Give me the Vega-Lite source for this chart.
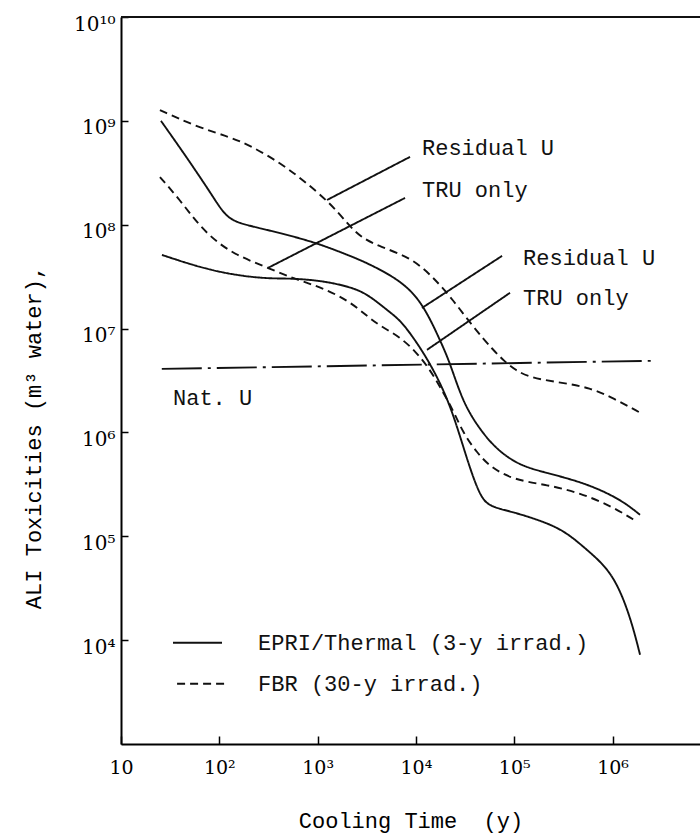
{
  "$schema": "https://vega.github.io/schema/vega-lite/v6.json",
  "width": 579,
  "height": 727,
  "autosize": {"type": "none"},
  "padding": {"left": 121, "top": 17, "right": 0, "bottom": 94},
  "background": "white",
  "config": {"view": {"stroke": null}, "axis": {"grid": false}},
  "datasets": {
    "lines": [
      {"curve": "border", "style": "solid", "t": 10, "v": 1e10},
      {"curve": "border", "style": "solid", "t": 7760000, "v": 1e10},

      {"curve": "EPRI Residual U", "style": "solid", "t": 25.5, "v": 1.0e9},
      {"curve": "EPRI Residual U", "style": "solid", "t": 44.8, "v": 4.7e8},
      {"curve": "EPRI Residual U", "style": "solid", "t": 80.4, "v": 2.07e8},
      {"curve": "EPRI Residual U", "style": "solid", "t": 106, "v": 1.36e8},
      {"curve": "EPRI Residual U", "style": "solid", "t": 134.6, "v": 1.09e8},
      {"curve": "EPRI Residual U", "style": "solid", "t": 205, "v": 9.73e7},
      {"curve": "EPRI Residual U", "style": "solid", "t": 414, "v": 8.34e7},
      {"curve": "EPRI Residual U", "style": "solid", "t": 986, "v": 6.68e7},
      {"curve": "EPRI Residual U", "style": "solid", "t": 2138, "v": 5.01e7},
      {"curve": "EPRI Residual U", "style": "solid", "t": 3184, "v": 4.29e7},
      {"curve": "EPRI Residual U", "style": "solid", "t": 6890, "v": 2.94e7},
      {"curve": "EPRI Residual U", "style": "solid", "t": 11530, "v": 1.81e7},
      {"curve": "EPRI Residual U", "style": "solid", "t": 17580, "v": 7.78e6},
      {"curve": "EPRI Residual U", "style": "solid", "t": 22230, "v": 4.68e6},
      {"curve": "EPRI Residual U", "style": "solid", "t": 30130, "v": 1.93e6},
      {"curve": "EPRI Residual U", "style": "solid", "t": 44900, "v": 1.06e6},
      {"curve": "EPRI Residual U", "style": "solid", "t": 66800, "v": 6.8e5},
      {"curve": "EPRI Residual U", "style": "solid", "t": 114500, "v": 4.77e5},
      {"curve": "EPRI Residual U", "style": "solid", "t": 215800, "v": 4.08e5},
      {"curve": "EPRI Residual U", "style": "solid", "t": 467000, "v": 3.35e5},
      {"curve": "EPRI Residual U", "style": "solid", "t": 839000, "v": 2.68e5},
      {"curve": "EPRI Residual U", "style": "solid", "t": 1340000, "v": 2.1e5},
      {"curve": "EPRI Residual U", "style": "solid", "t": 1905000, "v": 1.61e5},

      {"curve": "EPRI TRU only", "style": "solid", "t": 26.1, "v": 5.12e7},
      {"curve": "EPRI TRU only", "style": "solid", "t": 86.3, "v": 3.52e7},
      {"curve": "EPRI TRU only", "style": "solid", "t": 279, "v": 3.01e7},
      {"curve": "EPRI TRU only", "style": "solid", "t": 524, "v": 3.06e7},
      {"curve": "EPRI TRU only", "style": "solid", "t": 1135, "v": 2.88e7},
      {"curve": "EPRI TRU only", "style": "solid", "t": 2138, "v": 2.52e7},
      {"curve": "EPRI TRU only", "style": "solid", "t": 3184, "v": 2.16e7},
      {"curve": "EPRI TRU only", "style": "solid", "t": 5084, "v": 1.51e7},
      {"curve": "EPRI TRU only", "style": "solid", "t": 6890, "v": 1.21e7},
      {"curve": "EPRI TRU only", "style": "solid", "t": 9330, "v": 8.32e6},
      {"curve": "EPRI TRU only", "style": "solid", "t": 13900, "v": 4.68e6},
      {"curve": "EPRI TRU only", "style": "solid", "t": 22230, "v": 1.93e6},
      {"curve": "EPRI TRU only", "style": "solid", "t": 33110, "v": 5.45e5},
      {"curve": "EPRI TRU only", "style": "solid", "t": 44900, "v": 2.4e5},
      {"curve": "EPRI TRU only", "style": "solid", "t": 56800, "v": 1.92e5},
      {"curve": "EPRI TRU only", "style": "solid", "t": 97300, "v": 1.72e5},
      {"curve": "EPRI TRU only", "style": "solid", "t": 215800, "v": 1.35e5},
      {"curve": "EPRI TRU only", "style": "solid", "t": 344400, "v": 1.08e5},
      {"curve": "EPRI TRU only", "style": "solid", "t": 550700, "v": 7.41e4},
      {"curve": "EPRI TRU only", "style": "solid", "t": 1010000, "v": 4.46e4},
      {"curve": "EPRI TRU only", "style": "solid", "t": 1510000, "v": 1.72e4},
      {"curve": "EPRI TRU only", "style": "solid", "t": 1905000, "v": 7.24e3},

      {"curve": "FBR Residual U", "style": "dashed", "t": 24.9, "v": 1.27e9},
      {"curve": "FBR Residual U", "style": "dashed", "t": 59.3, "v": 8.73e8},
      {"curve": "FBR Residual U", "style": "dashed", "t": 128.5, "v": 7.0e8},
      {"curve": "FBR Residual U", "style": "dashed", "t": 220, "v": 5.61e8},
      {"curve": "FBR Residual U", "style": "dashed", "t": 414, "v": 3.94e8},
      {"curve": "FBR Residual U", "style": "dashed", "t": 710, "v": 2.7e8},
      {"curve": "FBR Residual U", "style": "dashed", "t": 1336, "v": 1.62e8},
      {"curve": "FBR Residual U", "style": "dashed", "t": 1991, "v": 1.04e8},
      {"curve": "FBR Residual U", "style": "dashed", "t": 2700, "v": 7.64e7},
      {"curve": "FBR Residual U", "style": "dashed", "t": 4313, "v": 6.11e7},
      {"curve": "FBR Residual U", "style": "dashed", "t": 8710, "v": 4.9e7},
      {"curve": "FBR Residual U", "style": "dashed", "t": 14930, "v": 3.15e7},
      {"curve": "FBR Residual U", "style": "dashed", "t": 23830, "v": 1.89e7},
      {"curve": "FBR Residual U", "style": "dashed", "t": 38100, "v": 1.04e7},
      {"curve": "FBR Residual U", "style": "dashed", "t": 60800, "v": 6.24e6},
      {"curve": "FBR Residual U", "style": "dashed", "t": 80500, "v": 4.79e6},
      {"curve": "FBR Residual U", "style": "dashed", "t": 101900, "v": 4.01e6},
      {"curve": "FBR Residual U", "style": "dashed", "t": 144800, "v": 3.35e6},
      {"curve": "FBR Residual U", "style": "dashed", "t": 313600, "v": 3.0e6},
      {"curve": "FBR Residual U", "style": "dashed", "t": 590000, "v": 2.69e6},
      {"curve": "FBR Residual U", "style": "dashed", "t": 1010000, "v": 2.15e6},
      {"curve": "FBR Residual U", "style": "dashed", "t": 1905000, "v": 1.55e6},

      {"curve": "FBR TRU only", "style": "dashed", "t": 24.9, "v": 2.88e8},
      {"curve": "FBR TRU only", "style": "dashed", "t": 39.8, "v": 1.73e8},
      {"curve": "FBR TRU only", "style": "dashed", "t": 59.3, "v": 1.04e8},
      {"curve": "FBR TRU only", "style": "dashed", "t": 94.8, "v": 6.68e7},
      {"curve": "FBR TRU only", "style": "dashed", "t": 162.6, "v": 4.9e7},
      {"curve": "FBR TRU only", "style": "dashed", "t": 313, "v": 3.84e7},
      {"curve": "FBR TRU only", "style": "dashed", "t": 617, "v": 2.94e7},
      {"curve": "FBR TRU only", "style": "dashed", "t": 1135, "v": 2.47e7},
      {"curve": "FBR TRU only", "style": "dashed", "t": 2138, "v": 1.81e7},
      {"curve": "FBR TRU only", "style": "dashed", "t": 3184, "v": 1.32e7},
      {"curve": "FBR TRU only", "style": "dashed", "t": 4313, "v": 1.06e7},
      {"curve": "FBR TRU only", "style": "dashed", "t": 6890, "v": 8.32e6},
      {"curve": "FBR TRU only", "style": "dashed", "t": 10260, "v": 5.83e6},
      {"curve": "FBR TRU only", "style": "dashed", "t": 13900, "v": 4.01e6},
      {"curve": "FBR TRU only", "style": "dashed", "t": 17580, "v": 2.75e6},
      {"curve": "FBR TRU only", "style": "dashed", "t": 23830, "v": 1.65e6},
      {"curve": "FBR TRU only", "style": "dashed", "t": 30130, "v": 9.91e5},
      {"curve": "FBR TRU only", "style": "dashed", "t": 41880, "v": 6.37e5},
      {"curve": "FBR TRU only", "style": "dashed", "t": 56800, "v": 4.67e5},
      {"curve": "FBR TRU only", "style": "dashed", "t": 97300, "v": 3.5e5},
      {"curve": "FBR TRU only", "style": "dashed", "t": 215800, "v": 3.13e5},
      {"curve": "FBR TRU only", "style": "dashed", "t": 467000, "v": 2.62e5},
      {"curve": "FBR TRU only", "style": "dashed", "t": 1010000, "v": 1.92e5},
      {"curve": "FBR TRU only", "style": "dashed", "t": 1774000, "v": 1.38e5},

      {"curve": "Nat. U", "style": "dashdot", "t": 26, "v": 4.09e6},
      {"curve": "Nat. U", "style": "dashdot", "t": 2500000, "v": 4.89e6},

      {"curve": "leader1", "style": "solid", "t": 1247, "v": 1.73e8},
      {"curve": "leader1", "style": "solid", "t": 8710, "v": 4.5e8},
      {"curve": "leader2", "style": "solid", "t": 313, "v": 3.84e7},
      {"curve": "leader2", "style": "solid", "t": 7745, "v": 1.81e8},
      {"curve": "leader3", "style": "solid", "t": 11530, "v": 1.58e7},
      {"curve": "leader3", "style": "solid", "t": 75200, "v": 5.01e7},
      {"curve": "leader4", "style": "solid", "t": 12970, "v": 6.24e6},
      {"curve": "leader4", "style": "solid", "t": 90600, "v": 2.21e7},

      {"curve": "legend solid", "style": "solid", "t": 33.8, "v": 9.44e3},
      {"curve": "legend solid", "style": "solid", "t": 106.5, "v": 9.44e3},
      {"curve": "legend dashed", "style": "dashed", "t": 37.2, "v": 3.8e3},
      {"curve": "legend dashed", "style": "dashed", "t": 122.7, "v": 3.8e3}
    ],
    "labels": [
      {"label": "Residual U", "t": 11530, "v": 5.48e8},
      {"label": "TRU only", "t": 11530, "v": 2.16e8},
      {"label": "Residual U", "t": 123000, "v": 4.79e7},
      {"label": "TRU only", "t": 123000, "v": 1.97e7},
      {"label": "Nat. U", "t": 33.8, "v": 2.15e6},
      {"label": "EPRI/Thermal (3-y irrad.)", "t": 248, "v": 9.44e3},
      {"label": "FBR (30-y irrad.)", "t": 248, "v": 3.8e3}
    ]
  },
  "encoding": {
    "x": {
      "field": "t",
      "type": "quantitative",
      "scale": {"type": "log", "domain": [10, 7760000], "nice": false},
      "axis": {
        "values": [10, 100, 1000, 10000, 100000, 1000000],
        "labelExpr": "round(log(datum.value)/LN10) == 1 ? '10' : '10' + ['⁰','¹','²','³','⁴','⁵','⁶','⁷','⁸','⁹'][round(log(datum.value)/LN10)]",
        "title": "Cooling Time\u00a0\u00a0(y)",
        "titleFont": "Liberation Mono",
        "titleFontSize": 22,
        "titleFontWeight": "normal",
        "titleColor": "black",
        "titleY": 83,
        "titleBaseline": "alphabetic",
        "labelFont": "DejaVu Serif",
        "labelFontSize": 19,
        "labelColor": "black",
        "labelBaseline": "alphabetic",
        "labelPadding": 37,
        "labelFlush": false,
        "labelOverlap": false,
        "tickSize": -8,
        "tickColor": "black",
        "tickWidth": 1.5,
        "domainColor": "black",
        "domainWidth": 2
      }
    },
    "y": {
      "field": "v",
      "type": "quantitative",
      "scale": {"type": "log", "domain": [1000, 10000000000], "nice": false},
      "axis": {
        "values": [10000, 100000, 1000000, 10000000, 100000000, 1000000000, 10000000000],
        "labelExpr": "'10' + ['⁰','¹','²','³','⁴','⁵','⁶','⁷','⁸','⁹','¹⁰'][round(log(datum.value)/LN10)]",
        "title": "ALI Toxicities (m³ water),",
        "titleFont": "Liberation Mono",
        "titleFontSize": 22,
        "titleFontWeight": "normal",
        "titleColor": "black",
        "titleAngle": 270,
        "titleX": -81,
        "titleY": 420,
        "titleAlign": "center",
        "titleBaseline": "alphabetic",
        "labelFont": "DejaVu Serif",
        "labelFontSize": 20,
        "labelColor": "black",
        "labelBaseline": "alphabetic",
        "labelOffset": 13,
        "labelPadding": 13,
        "labelFlush": false,
        "labelOverlap": false,
        "tickSize": -7,
        "tickColor": "black",
        "tickWidth": 1.5,
        "domainColor": "black",
        "domainWidth": 2
      }
    }
  },
  "layer": [
    {
      "data": {"name": "lines"},
      "mark": {"type": "line", "interpolate": "basis", "color": "#111111", "strokeWidth": 1.9},
      "encoding": {
        "detail": {"field": "curve", "type": "nominal"},
        "strokeDash": {
          "field": "style",
          "type": "nominal",
          "scale": {"domain": ["solid", "dashed", "dashdot"], "range": [[1, 0], [8, 5], [40, 6, 3, 6]]},
          "legend": null
        }
      }
    },
    {
      "data": {"name": "labels"},
      "mark": {"type": "text", "align": "left", "baseline": "middle", "font": "Liberation Mono", "fontSize": 22, "color": "#111111"},
      "encoding": {
        "text": {"field": "label", "type": "nominal"}
      }
    }
  ]
}
